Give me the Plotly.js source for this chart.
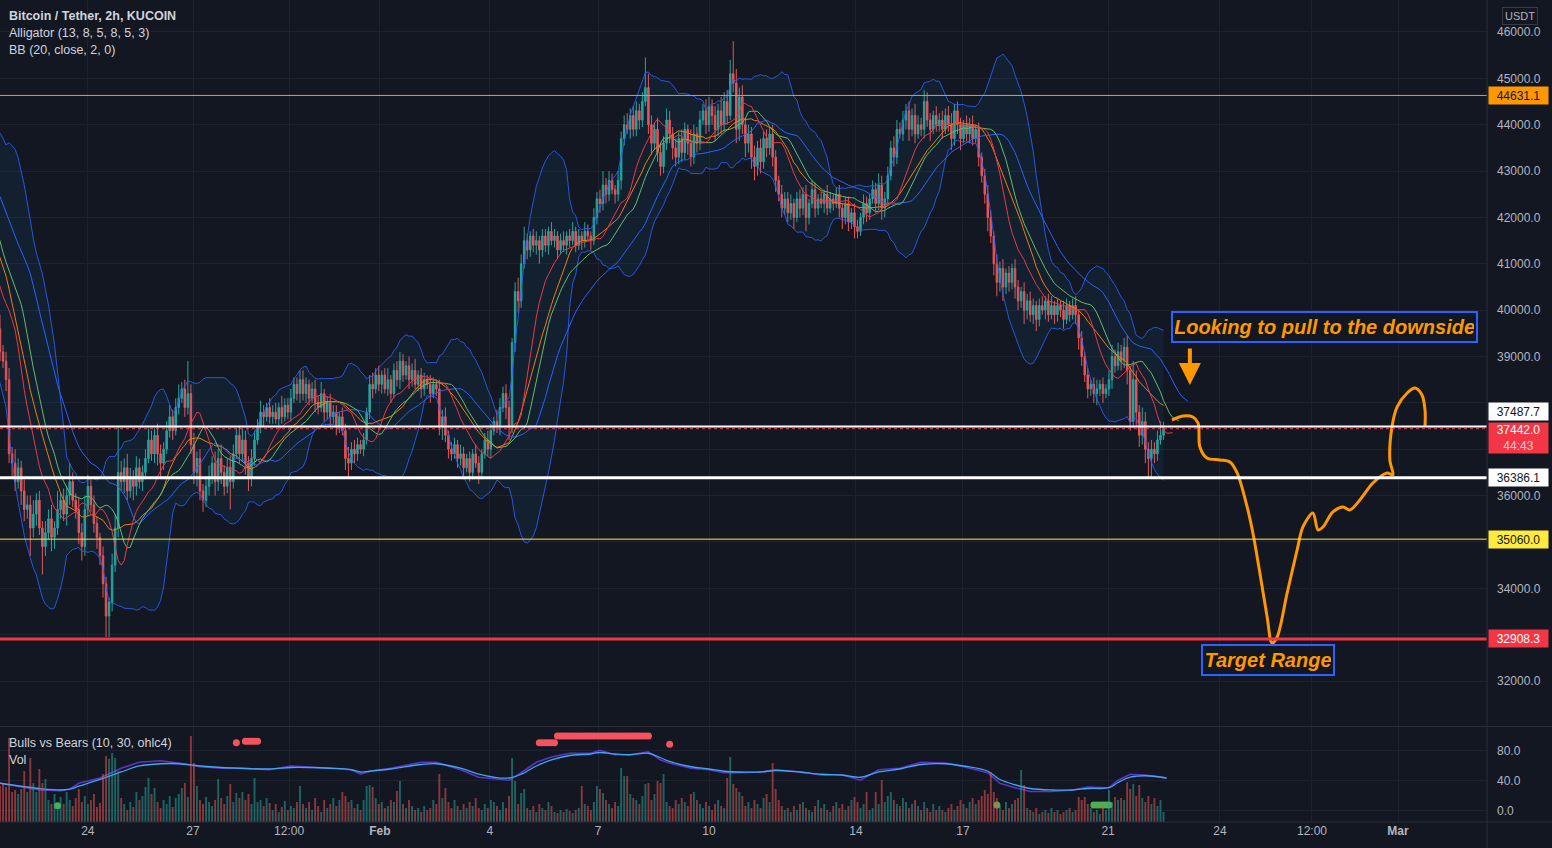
<!DOCTYPE html>
<html><head><meta charset="utf-8">
<script src="https://cdn.plot.ly/plotly-3.0.1.min.js"></script>
<style>html,body{margin:0;padding:0;background:#131722;overflow:hidden}#chart{width:1552px;height:848px}</style>
</head><body><div id="chart"></div>
<script>
// ---------- DATA (2h bars, index 0 = first visible bar) ----------
const firstIndex = -30;
const firstOpen = 42700;
const preClose = [42800,43050,43200,42950,43300,43100,42900,43150,42850,42700,
42900,42600,42750,42500,42650,42400,42200,42500,42300,42100,
42000,41200,40500,40000,39700,39900,39500,39700,39400,39600];
const preUpWick = [150,200,120,180,100,160,140,90,200,130,110,170,90,150,120,180,100,140,160,120,200,150,180,120,250,160,200,140,220,180];
const preDnWick = [120,100,180,90,150,110,200,130,100,160,140,90,170,120,100,150,130,110,90,160,180,220,150,260,140,200,170,250,160,190];

const close = [
39100,38900,38500,36900,36700,36300,36600,36100,35700,35800,
35300,35600,35900,35300,34900,35200,35500,35100,35300,35700,
35900,35600,36000,36300,35900,35700,35200,34900,35700,36200,
35800,35400,35100,34700,34100,33400,33700,34500,35300,36500,
36300,36600,36100,36400,36200,36600,36300,36500,36800,37200,
36900,37300,36900,36700,37000,37400,37700,37400,37900,38100,
38300,37900,38200,37100,36500,36800,36100,35900,36200,36400,
36700,36300,36800,36500,36200,36600,36300,36900,37300,36900,
37200,36700,36400,36800,37200,37500,37800,37700,37900,37700,
37800,37650,37900,37700,37950,37800,38100,38400,38200,38500,
38200,38400,38100,38300,38000,37900,38200,37800,38000,37700,
37800,37500,37700,37400,36800,36700,37000,36900,37100,37000,
37200,37800,38400,38300,38600,38400,38600,38300,38500,38200,
38700,38500,38900,38600,38800,38500,38700,38400,38600,38300,
38500,38400,38200,38400,38300,37500,37700,37300,37000,36900,
37100,36800,36900,36600,36800,36500,36900,36700,36500,36900,
37200,37000,37400,37600,37500,37900,38200,37900,37500,39300,
40400,40200,41000,41500,41300,41600,41400,41500,41300,41600,
41400,41700,41500,41600,41300,41500,41400,41600,41500,41700,
41400,41600,41500,41700,41600,41500,42000,42400,42300,42700,
42500,42800,42600,42500,42800,43700,44000,43900,44200,43900,
44300,44100,44500,44800,44000,43600,43900,43400,43100,43600,
44100,43800,43500,43300,43700,43400,43900,43600,43300,43800,
43600,44100,44300,44000,44400,44200,43900,44300,44000,44500,
44200,45100,44900,43900,44600,44000,43600,43800,43300,43100,
43500,43200,43700,43500,43800,43300,42800,42500,42200,42400,
42100,42300,42000,42400,42200,42500,42000,42300,42600,42200,
42400,42300,42500,42200,42400,42300,42500,42200,42000,42300,
41900,42100,41800,41700,42000,42300,42100,42400,42600,42300,
42700,42200,42400,42900,43500,43300,43900,43800,44100,44300,
43900,44200,43800,44000,43900,44500,44100,43900,44200,44000,
44100,43900,44200,44000,43700,44300,44000,43700,44000,43800,
44000,43700,43900,43300,42900,42500,42000,41600,41000,40600,
40900,40500,40800,40600,40900,40500,40200,40400,40000,40200,
39900,40100,39800,40100,40000,40200,39900,40100,39900,40100,
40000,39800,40100,39900,40100,39900,39400,39000,38600,38300,
38400,38200,38300,38400,38200,38300,38500,39000,38800,39100,
38900,39200,38700,37600,38500,37800,37300,37600,37000,36800,
37000,36900,37200,37300,37442];

const upWick = [
300,150,200,250,150,300,200,150,250,200, 200,300,150,200,150,250,200,300,150,400,
150,250,200,400,200,150,250,200,300,250, 150,200,150,100,200,150,100,250,300,1000,
250,200,300,200,150,250,200,150,200,250, 200,150,250,200,150,200,250,150,200,300,
150,200,700,200,250,150,200,150,200,250, 150,250,200,300,150,200,250,200,150,200,
250,200,150,200,200,150,250,150,100,200, 150,200,100,250,150,150,200,150,150,200,
200,150,100,150,200,150,250,100,150,200, 150,150,100,200,150,250,150,200,150,100,
150,100,200,250,150,200,100,150,250,100, 150,200,200,150,100,200,150,250,100,150,
150,100,200,150,100,200,150,200,100,150, 150,100,200,150,100,150,100,200,150,100,
150,200,150,100,250,200,150,200,150,100, 200,300,200,300,150,100,150,200,100,150,
150,100,200,150,100,150,200,100,150,200, 100,150,100,200,150,100,200,150,200,300,
150,200,150,100,200,150,200,250,150,200, 200,150,200,650,300,200,150,250,200,150,
250,200,150,200,150,200,150,100,300,200, 150,200,150,250,200,150,200,150,300,200,
250,300,700,300,200,250,150,200,150,250, 150,200,150,200,150,200,150,100,200,150,
150,200,100,150,200,150,200,100,200,150, 100,150,100,200,150,100,150,200,100,150,
150,100,200,150,100,200,150,100,200,150, 250,200,150,200,150,250,200,150,200,150,
200,150,250,200,150,250,200,150,100,200, 150,200,150,200,250,150,200,150,100,200,
150,200,100,150,100,150,200,150,100,200, 150,200,100,150,100,200,150,100,200,150,
200,150,100,150,200,100,150,200,100,150, 100,200,150,100,150,200,100,150,100,150,
100,150,200,100,150,100,200,250,150,200, 150,200,250,100,400,200,150,300,200,150,
200,150,200,300,150];

const dnWick = [
200,150,250,200,300,200,150,300,250,200, 600,200,250,150,600,200,150,300,250,150,
200,150,250,200,150,200,250,300,200,150, 150,200,250,200,300,450,450,200,150,200,
200,250,200,150,300,200,150,200,150,100, 150,200,250,300,150,100,150,200,100,150,
100,200,150,200,250,300,200,250,150,200, 150,300,200,250,200,150,600,150,100,200,
150,250,300,200,150,100,150,200,100,150, 150,100,200,150,100,150,200,100,150,200,
150,200,150,100,200,150,100,200,150,200, 150,200,150,100,250,300,150,200,150,100,
150,100,150,200,100,150,200,100,150,200, 100,150,200,150,100,200,150,100,150,200,
150,100,200,100,150,200,300,150,200,150, 100,200,150,250,100,200,150,100,250,150,
100,150,200,100,150,200,100,250,300,150, 200,250,150,100,200,150,150,200,300,150,
150,200,100,150,200,100,150,200,150,100, 150,100,200,150,100,200,100,150,200,150,
200,150,100,200,150,200,150,100,200,150, 150,200,150,100,200,250,150,200,200,150,
150,200,250,200,150,200,150,250,200,150, 200,150,100,200,150,200,250,150,200,150,
200,100,200,300,250,200,300,200,250,300, 200,250,150,200,150,200,250,150,200,150,
200,150,250,100,200,150,300,150,100,200, 150,100,200,150,100,150,100,200,250,150,
200,150,250,150,100,150,200,150,100,200, 150,250,200,150,100,200,150,100,150,200,
250,150,200,100,150,200,150,250,100,150, 150,200,100,150,250,150,200,250,100,150,
200,150,100,200,150,200,300,150,250,300, 200,300,150,200,150,250,200,150,300,200,
150,200,250,150,100,200,150,100,200,150, 150,200,100,150,100,200,250,200,150,200,
150,200,250,150,200,100,150,200,150,100, 200,150,300,200,150,300,250,200,300,400,
400,200,150,100,100];

const volume = [
36,38,35,84,30,32,28,33,51,30, 64,39,30,53,39,43,22,18,28,15,
25,18,30,22,16,24,33,20,26,18, 22,28,15,19,48,66,63,69,64,51,
24,18,12,20,15,30,22,26,35,44, 28,34,20,14,22,18,26,15,24,28,
34,39,25,86,59,36,22,18,25,20, 16,22,43,24,18,26,38,20,29,24,
30,22,28,18,44,20,22,16,24,19, 12,18,10,15,21,12,16,14,20,36,
18,14,20,12,24,16,10,22,14,18, 24,16,22,30,26,20,22,14,18,12,
22,36,37,35,24,18,20,14,16,22, 20,31,41,18,14,22,16,12,14,10,
16,12,14,22,18,48,24,34,20,14, 22,16,12,18,14,20,16,24,14,12,
18,14,22,20,16,12,20,14,26,64, 41,18,29,33,14,12,16,10,18,14,
12,20,16,10,9,12,10,13,11,9, 12,14,36,18,16,12,20,36,33,29,
22,18,14,20,16,54,46,46,28,24, 22,18,26,38,39,22,28,41,39,48,
20,16,14,22,18,24,20,16,28,30, 22,18,14,20,16,12,18,22,16,14,
44,65,38,34,30,26,16,20,14,22, 18,14,24,28,20,59,33,22,16,12,
14,10,16,12,18,20,14,12,10,16, 22,14,18,12,10,16,20,14,18,12,
16,22,25,20,14,18,30,12,14,30, 18,42,20,26,30,22,18,16,24,20,
14,18,22,16,12,20,14,10,18,12, 16,12,10,14,18,12,16,22,18,14,
20,24,18,22,26,32,28,50,30,24, 16,12,20,14,18,22,24,52,37,14,
12,10,14,8,10,12,9,14,10,12, 8,10,12,14,10,12,25,22,25,18,
14,10,12,8,16,12,32,20,25,22, 24,22,40,33,38,26,37,24,20,26,
18,24,16,22,10];

// Bulls vs Bears pane
const bvbX = [0,7,13,20,23,26,33,40,46,53,59,66,73,79,89,96,102,109,116,119,122,129,139,144,152,158,163,168,172,177,182,188,195,198,203,208,214,218,221,228,234,239,244,251,256,264,271,278,284,290,297,304,312,318,326,330,335,340,347,354,359,366,369,373,378,385];
const bvbPurple = [37,32,28,27,29,37,44,57,65,67,64,59,57,57,55,60,59,57,55,49,53,57,65,65,55,45,43,41,51,65,72,77,77,81,75,75,79,68,64,57,55,51,51,52,55,52,48,48,41,55,57,65,64,59,51,37,31,26,26,28,32,31,41,49,48,44];
const bvbBlue = [37,33,30,28,29,33,42,52,60,63,63,60,58,57,56,58,58,57,55,52,53,56,62,63,57,49,45,44,49,60,68,74,76,78,76,75,77,71,66,59,56,53,52,52,54,52,49,48,45,52,56,62,63,60,53,42,35,30,28,28,30,31,38,45,47,44];
const redDotX = [78,81,82,83,84,85,178,179,180,181,182,183,184,185,186,187,188,189,190,191,192,193,194,195,196,197,198,199,200,201,202,203,204,205,206,207,208,209,210,211,212,213,214,221];
const redDotY = [91,93,93,93,93,93,91,91,91,91,91,91,100,100,100,100,100,100,100,100,100,100,100,100,100,100,100,100,100,100,100,100,100,100,100,100,100,100,100,100,100,100,100,89];
const greenDotX = [19,329,361,362,363,364,365,366];
const greenDotY = [7,8,8,8,8,8,8,8];

// Horizontal levels
const levels = [
 {price:44631.1, color:'#ff9800', width:1, bg:'#ff9800', fg:'#131722', shift:0},
 {price:37487.7, color:'#ffffff', width:2, bg:'#ffffff', fg:'#131722', shift:15},
 {price:36386.1, color:'#ffffff', width:3, bg:'#ffffff', fg:'#131722', shift:0},
 {price:35060.0, color:'#ffeb3b', width:1, bg:'#ffeb3b', fg:'#131722', shift:0},
 {price:32908.3, color:'#f23645', width:3, bg:'#f23645', fg:'#ffffff', shift:0}
];
const lastPrice = 37442.0;
const countdown = '44:43';

// Hand-drawn projection path (bar index, price)
const projX = [386.8,390.4,393.7,395.4,396.0,398.3,402.6,405.9,408.3,411.6,413.5,415.8,418.2,419.8,421.5,424.8,428.1,430.0,433.3,435.0,436.6,439.9,443.2,445.5,448.8,453.1,457.8,459.7,458.7,459.4,461.1,464.4,467.0,469.3,470.3,470.3];
const projY = [37630,37717,37695,37566,37048,36811,36768,36725,36488,35754,35193,34330,33381,32820,32950,33899,34827,35323,35625,35258,35323,35646,35754,35689,35905,36272,36488,36445,36768,37480,37911,38213,38321,38170,37847,37480];

const tickIdx = [29.0,63.7,95.4,125.4,161.7,197.4,234.0,282.5,317.8,365.7,402.6,433.0,461.4];
const tickText = ['24','27','12:00','<b>Feb</b>','4','7','10','14','17','21','24','12:00','<b>Mar</b>'];
const priceTicks = [32000,33000,34000,35000,36000,37000,38000,39000,40000,41000,42000,43000,44000,45000,46000];
const hiddenTicks = [33000,37000,38000]; // covered by price tags in the reference

// ---------- BUILD ----------
const C = preClose.concat(close);
const UW = preUpWick.concat(upWick);
const DW = preDnWick.concat(dnWick);
const n = C.length;
const X = C.map((_,k)=>k+firstIndex);
const O = C.map((c,k)=> k===0 ? firstOpen : C[k-1]);
const H = C.map((c,k)=> Math.max(O[k],c)+UW[k]);
const L = C.map((c,k)=> Math.min(O[k],c)-DW[k]);
const HL2 = H.map((h,k)=>(h+L[k])/2);

const bbX=[],bbU=[],bbL=[],bbM=[];
for(let k=19;k<n;k++){let s=0;for(let j=k-19;j<=k;j++)s+=C[j];const m=s/20;let v=0;for(let j=k-19;j<=k;j++)v+=(C[j]-m)**2;const sd=Math.sqrt(v/20);bbX.push(X[k]);bbM.push(m);bbU.push(m+2*sd);bbL.push(m-2*sd);}
function smma(src,len){const out=new Array(src.length).fill(null);let s=0;for(let k=0;k<src.length;k++){if(k<len-1){s+=src[k];continue;}if(k===len-1){s+=src[k];out[k]=s/len;}else out[k]=(out[k-1]*(len-1)+src[k])/len;}return out;}
const jaw=smma(HL2,13), teeth=smma(HL2,8), lips=smma(HL2,5);

const FONT='Liberation Sans, Arial, sans-serif';
const AX='#b2b5be';
const GRID='#1e2230';
const BAND='rgba(41,98,255,0.85)';

const vx = X.slice(-firstIndex);
const vcol = vx.map((_,i)=>{const k=i-firstIndex;return C[k]>=O[k]?'rgba(38,166,154,0.55)':'rgba(239,83,80,0.55)';});

const traces = [
 {x:bbX,y:bbU,type:'scatter',mode:'lines',line:{color:BAND,width:1},hoverinfo:'skip'},
 {x:bbX,y:bbL,type:'scatter',mode:'lines',line:{color:BAND,width:1},fill:'tonexty',fillcolor:'rgba(33,150,243,0.07)',hoverinfo:'skip'},
 {x:X,open:O,high:H,low:L,close:C,type:'candlestick',xaxis:'x',yaxis:'y',
  increasing:{line:{color:'#26a69a',width:1},fillcolor:'#26a69a'},
  decreasing:{line:{color:'#ef5350',width:1},fillcolor:'#ef5350'},whiskerwidth:0,hoverinfo:'skip'},
 {x:bbX,y:bbM,type:'scatter',mode:'lines',line:{color:'#f57c00',width:1},hoverinfo:'skip'},
 {x:X.map(v=>v+8),y:jaw,type:'scatter',mode:'lines',line:{color:'#2962ff',width:1},hoverinfo:'skip'},
 {x:X.map(v=>v+5),y:teeth,type:'scatter',mode:'lines',line:{color:'#66bb6a',width:1},hoverinfo:'skip'},
 {x:X.map(v=>v+3),y:lips,type:'scatter',mode:'lines',line:{color:'#f23645',width:1},hoverinfo:'skip'},
 {x:projX,y:projY,type:'scatter',mode:'lines',line:{color:'#ff9800',width:3,shape:'spline',smoothing:0.9},hoverinfo:'skip'},
 {x:vx,y:volume,type:'bar',yaxis:'y3',marker:{color:vcol,line:{width:0}},width:0.62,hoverinfo:'skip'},
 {x:bvbX,y:bvbPurple,type:'scatter',mode:'lines',yaxis:'y2',line:{color:'#5a35c8',width:1.6},hoverinfo:'skip'},
 {x:bvbX,y:bvbBlue,type:'scatter',mode:'lines',yaxis:'y2',line:{color:'#42a5f5',width:1.3,shape:'spline',smoothing:1},hoverinfo:'skip'},
 {x:redDotX,y:redDotY,type:'scatter',mode:'markers',yaxis:'y2',marker:{color:'#f7525f',size:7},hoverinfo:'skip'},
 {x:greenDotX,y:greenDotY,type:'scatter',mode:'markers',yaxis:'y2',marker:{color:'#4caf50',size:7},hoverinfo:'skip'}
];

const shapes = [];
levels.forEach(l=>shapes.push({type:'line',xref:'paper',yref:'y',x0:0,x1:1,y0:l.price,y1:l.price,line:{color:l.color,width:l.width},layer:'above'}));
shapes.push({type:'line',xref:'paper',yref:'y',x0:0,x1:1,y0:lastPrice,y1:lastPrice,line:{color:'#f23645',width:1,dash:'dot'},layer:'above'});
const sepY = (822-726.5)/822;
shapes.push({type:'line',xref:'paper',yref:'paper',x0:0,x1:1.05,y0:sepY,y1:sepY,line:{color:'#2a2e39',width:1}});
shapes.push({type:'line',xref:'paper',yref:'paper',x0:0,x1:1.05,y0:0,y1:0,line:{color:'#2a2e39',width:1}});
shapes.push({type:'line',xref:'paper',yref:'paper',x0:1,x1:1,y0:-0.04,y1:1,line:{color:'#2a2e39',width:1}});

const ann = [];
function tag(price,bg,fg,shift,text,h){ann.push({xref:'paper',yref:'y',x:1,y:price,xanchor:'left',yanchor:'middle',xshift:1,yshift:shift,text:text,showarrow:false,bgcolor:bg,font:{color:fg,size:12,family:FONT},width:57,height:h,borderpad:1,align:'center'});}
levels.forEach(l=>tag(l.price,l.bg,l.fg,l.shift,l.price.toFixed(1),15));
tag(lastPrice,'#f23645','#ffffff',-9,lastPrice.toFixed(1)+'<br><span style="color:#ffc4c9">'+countdown+'</span>',28);

function leg(text,y,bold){ann.push({xref:'paper',yref:'paper',x:0,y:1,xanchor:'left',yanchor:'middle',xshift:7,yshift:-y,text:text,showarrow:false,font:{size:12.5,color:'#d1d4dc',family:FONT,weight:bold?700:400}});}
leg('Bitcoin / Tether, 2h, KUCOIN',16,true);
leg('Alligator (13, 8, 5, 8, 5, 3)',33);
leg('BB (20, close, 2, 0)',50);
leg('Bulls vs Bears (10, 30, ohlc4)',743);
leg('Vol',760);

ann.push({xref:'paper',yref:'paper',x:1+33/1487,y:1,xanchor:'center',yanchor:'middle',yshift:-16,text:'USDT',showarrow:false,font:{size:11,color:AX,family:FONT},bordercolor:'#363a45',borderwidth:1,borderpad:2});

ann.push({xref:'x',yref:'y',x:437.1,y:39637,text:'<b><i>Looking to pull to the downside</i></b>',showarrow:false,font:{size:20,color:'#ff9800',family:FONT},bordercolor:'#2962ff',borderwidth:2,borderpad:2,bgcolor:'rgba(19,23,34,0.6)',width:299,height:24});
ann.push({xref:'x',yref:'y',x:418.5,y:32443,text:'<b><i>Target Range</i></b>',showarrow:false,font:{size:20,color:'#ff9800',family:FONT},bordercolor:'#2962ff',borderwidth:2,borderpad:2,bgcolor:'rgba(19,23,34,0.6)',width:126,height:24});
ann.push({xref:'x',yref:'y',x:392.7,y:38386,ax:0,ay:-38,text:'',showarrow:true,arrowhead:2,arrowsize:1.1,arrowwidth:4,arrowcolor:'#ff9800'});

const layout = {
 width:1552,height:848,paper_bgcolor:'#131722',plot_bgcolor:'#131722',
 margin:{l:0,r:65,t:0,b:26},showlegend:false,hovermode:false,
 font:{family:FONT,color:AX,size:12},
 xaxis:{anchor:'y2',range:[0,490.76],tickvals:tickIdx,ticktext:tickText,showgrid:true,gridcolor:GRID,gridwidth:1,zeroline:false,showline:false,ticks:'',tickfont:{size:12,color:AX},rangeslider:{visible:false},fixedrange:true},
 yaxis:{domain:[0.1168,1],range:[31030,46690],side:'right',tickvals:priceTicks,ticktext:priceTicks.map(v=>hiddenTicks.includes(v)?'':v.toFixed(1)),showgrid:true,gridcolor:GRID,zeroline:false,showline:false,ticks:'',ticklabelstandoff:9,tickfont:{size:12,color:AX},fixedrange:true},
 yaxis2:{domain:[0,0.1156],range:[-14.67,112],side:'right',tickvals:[0,40,80],tickformat:'.1f',showgrid:true,gridcolor:GRID,zeroline:false,showline:false,ticks:'',ticklabelstandoff:9,tickfont:{size:12,color:AX},fixedrange:true},
 yaxis3:{domain:[0,0.1156],overlaying:'y2',range:[0,95],visible:false,showgrid:false,fixedrange:true},
 shapes:shapes,annotations:ann,bargap:0.3
};
Plotly.newPlot('chart',traces,layout,{displayModeBar:false,staticPlot:true});
</script></body></html>
